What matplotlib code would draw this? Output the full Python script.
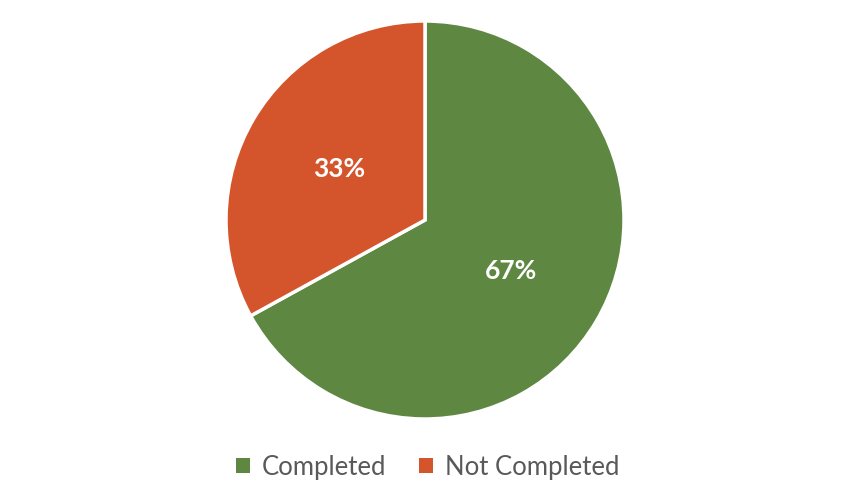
import matplotlib
matplotlib.use("Agg")
import matplotlib.pyplot as plt
from matplotlib.patches import Patch

categories = ["Completed", "Not Completed"]
values = [67, 33]
colors = ["#5E8741", "#D4552B"]

W, H = 850, 504
fig = plt.figure(figsize=(W / 100, H / 100), dpi=100)
ax = fig.add_axes([0, 0, 1, 1])

cx, cy, r = 425, H - 220, 199
wedges, texts, autotexts = ax.pie(
    values, colors=colors, startangle=90, counterclock=False,
    center=(cx, cy), radius=r, autopct="%d%%", pctdistance=0.5,
    wedgeprops=dict(edgecolor="white", linewidth=2.5),
    textprops=dict(color="white", fontsize=19, fontweight="bold", family="Lato"),
    frame=True,
)
ax.set_xlim(0, W)
ax.set_ylim(0, H)
ax.set_aspect("equal")
ax.axis("off")

handles = [Patch(facecolor=c, edgecolor="none") for c in colors]
fig.legend(handles, categories, loc="center", bbox_to_anchor=(0.503, 1 - 467 / H),
           ncol=2, frameon=False, handlelength=0.55, handleheight=0.55,
           handletextpad=0.45, columnspacing=1.3,
           prop=dict(family="Lato", size=18.5), labelcolor="#595959")

fig.savefig("out.png", dpi=100, facecolor="white")
